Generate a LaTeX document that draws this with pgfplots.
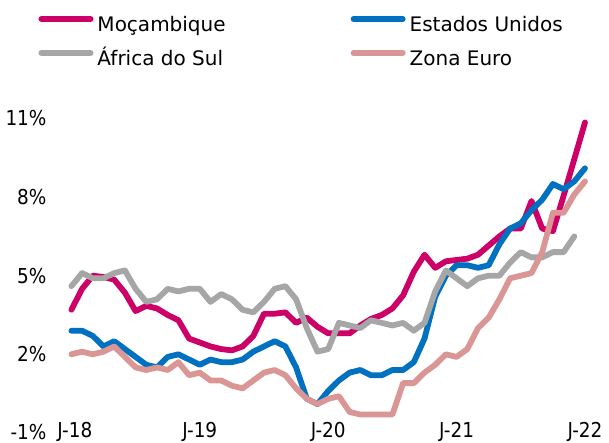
\documentclass[border=0pt]{standalone}
\usepackage{fontspec}
\setmainfont{DejaVu Sans}
\newfontfamily\condfont{DejaVu Sans Condensed}
\usepackage{pgfplots}
\pgfplotsset{compat=1.18}
\definecolor{moz}{HTML}{CC0066}
\definecolor{usa}{HTML}{0070C0}
\definecolor{rsa}{HTML}{A6A6A6}
\definecolor{eur}{HTML}{D99694}
\newcommand\lf{\fontsize{20bp}{24bp}\selectfont}
\newcommand\tf{\condfont\fontsize{20.5bp}{24bp}\selectfont}
\begin{document}
\begin{tikzpicture}
\begin{axis}[
 at={(66.05bp,10.1bp)}, anchor=south west, scale only axis,
 width=524.3bp, height=319.64bp,
 xmin=-0.5, xmax=48.5, ymin=-1, ymax=11.2,
 axis line style={draw=none}, major tick length=0pt, tick style={draw=none},
 xtick={0,12,24,36,48}, xticklabels={\hspace*{7bp}J-18,J-19,J-20,J-21,J-22},
 ytick={-1,2,5,8,11}, yticklabels={\raisebox{2.5bp}{-1\%},2\%,5\%,8\%,11\%},
 xticklabel style={anchor=base, inner sep=0pt, yshift=-4.8bp, font=\tf},
 yticklabel style={anchor=east, inner sep=0pt, font=\tf},
 yticklabel shift=19.35bp,
 every axis plot/.append style={line width=5.8bp, line join=round, line cap=round},
 legend columns=2, legend cell align=left,
 legend style={at={(-0.05293,1.30444)}, anchor=north west, draw=none, fill=none, inner sep=0pt,
   font=\lf, row sep=13.4bp,
   nodes={inner sep=0pt, text height=15bp, text depth=5bp},
   /tikz/every odd column/.append style={column sep=4bp},
   /tikz/column 2/.append style={column sep=125bp}},
 legend image code/.code={\draw[#1, line width=5.8bp, line cap=round] (2.9bp,7.7bp) -- (52.1bp,7.7bp);},
]
\addplot[moz] coordinates {
(0,3.7)(1,4.5)(2,5.0)(3,4.95)(4,4.85)(5,4.35)(6,3.65)(7,3.85)(8,3.75)(9,3.5)
(10,3.3)(11,2.6)(12,2.45)(13,2.3)(14,2.2)(15,2.15)(16,2.3)(17,2.7)(18,3.55)(19,3.55)
(20,3.6)(21,3.2)(22,3.4)(23,3.05)(24,2.8)(25,2.8)(26,2.8)(27,3.1)(28,3.35)(29,3.5)
(30,3.75)(31,4.25)(32,5.15)(33,5.8)(34,5.3)(35,5.55)(36,5.6)(37,5.65)(38,5.8)(39,6.15)
(40,6.5)(41,6.8)(42,6.8)(43,7.85)(44,6.8)(45,6.7)(46,8.05)(47,9.45)(48,10.85)};
\addlegendentry{Moçambique}
\addplot[usa] coordinates {
(0,2.9)(1,2.9)(2,2.7)(3,2.3)(4,2.5)(5,2.2)(6,1.9)(7,1.6)(8,1.5)(9,1.9)
(10,2.0)(11,1.8)(12,1.6)(13,1.8)(14,1.7)(15,1.7)(16,1.8)(17,2.1)(18,2.3)(19,2.5)
(20,2.3)(21,1.5)(22,0.3)(23,0.1)(24,0.6)(25,1.0)(26,1.3)(27,1.4)(28,1.2)(29,1.2)
(30,1.4)(31,1.4)(32,1.7)(33,2.6)(34,4.2)(35,5.0)(36,5.4)(37,5.4)(38,5.3)(39,5.4)
(40,6.2)(41,6.8)(42,7.0)(43,7.5)(44,7.9)(45,8.5)(46,8.3)(47,8.6)(48,9.1)};
\addlegendentry{Estados Unidos}
\addplot[rsa] coordinates {
(0,4.6)(1,5.1)(2,4.9)(3,4.9)(4,5.1)(5,5.2)(6,4.5)(7,4.0)(8,4.1)(9,4.5)
(10,4.4)(11,4.5)(12,4.5)(13,4.0)(14,4.3)(15,4.1)(16,3.7)(17,3.6)(18,4.0)(19,4.5)
(20,4.6)(21,4.1)(22,3.0)(23,2.1)(24,2.2)(25,3.2)(26,3.1)(27,3.0)(28,3.3)(29,3.2)
(30,3.1)(31,3.2)(32,2.9)(33,3.2)(34,4.4)(35,5.2)(36,4.9)(37,4.6)(38,4.9)(39,5.0)
(40,5.0)(41,5.5)(42,5.9)(43,5.7)(44,5.7)(45,5.9)(46,5.9)(47,6.5)};
\addlegendentry{África do Sul}
\addplot[eur] coordinates {
(0,2.0)(1,2.1)(2,2.0)(3,2.1)(4,2.3)(5,1.9)(6,1.5)(7,1.4)(8,1.5)(9,1.4)
(10,1.7)(11,1.2)(12,1.3)(13,1.0)(14,1.0)(15,0.8)(16,0.7)(17,1.0)(18,1.3)(19,1.4)
(20,1.2)(21,0.7)(22,0.3)(23,0.1)(24,0.3)(25,0.4)(26,-0.2)(27,-0.3)(28,-0.3)(29,-0.3)
(30,-0.3)(31,0.9)(32,0.9)(33,1.3)(34,1.6)(35,2.0)(36,1.9)(37,2.2)(38,3.0)(39,3.4)
(40,4.1)(41,4.9)(42,5.0)(43,5.1)(44,5.9)(45,7.4)(46,7.4)(47,8.1)(48,8.6)};
\addlegendentry{Zona Euro}
\end{axis}
\pgfresetboundingbox
\useasboundingbox (0,0) rectangle (609bp,443bp);
\end{tikzpicture}
\end{document}
